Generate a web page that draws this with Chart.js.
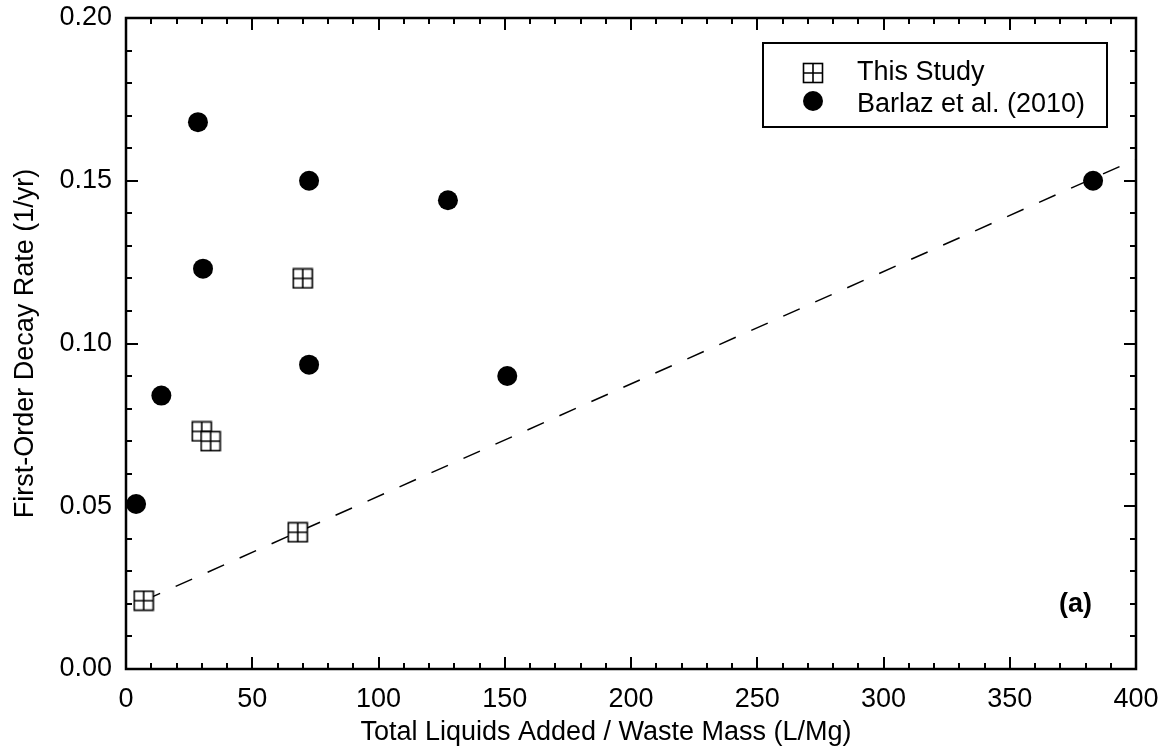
<!DOCTYPE html>
<html>
<head>
<meta charset="utf-8">
<script src="https://cdn.jsdelivr.net/npm/chart.js@4.4.1/dist/chart.umd.min.js"></script>
<style>html,body{margin:0;padding:0;background:#fff}</style>
</head>
<body>
<canvas id="c" width="1169" height="755"></canvas>
<script>
// values
let studyX=[7,30,33.5,68,70];
let studyY=[0.021,0.073,0.070,0.042,0.120];
let barlazX=[4,14,28.5,30.5,72.5,72.5,127.5,151,383];
let barlazY=[0.0507,0.084,0.168,0.123,0.150,0.0935,0.144,0.090,0.150];
let fitX=[7,400];
let fitY=[0.021,0.1566];
let xTicks=[0,50,100,150,200,250,300,350,400];
let yTicks=[0,0.05,0.10,0.15,0.20];
let xMinor=10, yMinor=0.01;
let seriesNames=["This Study","Barlaz et al. (2010)"];
let xTitle="Total Liquids Added / Waste Mass (L/Mg)";
let yTitle="First-Order Decay Rate (1/yr)";
let panelTag="(a)";

const FONT="Liberation Sans, Arial, sans-serif";

function pts(xs,ys){return xs.map((x,i)=>({x:x,y:ys[i]}));}

function boxMark(){
    let cv=document.createElement("canvas");
    cv.width=22; cv.height=22;
    let g=cv.getContext("2d");
    g.fillStyle="#fff"; g.fillRect(1,1,20,20);
    g.strokeStyle="#000"; g.lineWidth=1.6;
    g.strokeRect(1.5,1.5,19,19);
    g.beginPath();
    g.moveTo(11,1.5); g.lineTo(11,20.5);
    g.moveTo(1.5,11); g.lineTo(20.5,11);
    g.stroke();
    return cv;
}
let box=boxMark();

let frame={
    id:"frame",
    afterDraw(chart){
        let c=chart.ctx, a=chart.chartArea, xs=chart.scales.x, ys=chart.scales.y;
        c.save();
        c.strokeStyle="#000";
        // ticks, pointing inward on all four sides
        c.lineWidth=2;
        c.beginPath();
        for(let v=xs.min; v<=xs.max+1e-9; v+=xMinor){
            let px=Math.round(xs.getPixelForValue(v));
            let len=xTicks.includes(Math.round(v))?12:6;
            c.moveTo(px,a.bottom); c.lineTo(px,a.bottom-len);
            c.moveTo(px,a.top); c.lineTo(px,a.top+len);
        }
        for(let k=0; k<=Math.round((ys.max-ys.min)/yMinor); k++){
            let v=ys.min+k*yMinor;
            let py=Math.round(ys.getPixelForValue(v));
            let len=(k%5===0)?12:6;
            c.moveTo(a.left,py); c.lineTo(a.left+len,py);
            c.moveTo(a.right,py); c.lineTo(a.right-len,py);
        }
        c.stroke();
        c.lineWidth=2.5;
        c.strokeRect(a.left,a.top,a.right-a.left,a.bottom-a.top);

        // legend
        c.lineWidth=2;
        c.strokeRect(763,43,344,84);
        c.drawImage(box,813-11,73-11);
        c.fillStyle="#000";
        c.beginPath(); c.arc(813,101,10,0,Math.PI*2); c.fill();
        c.font="27px "+FONT;
        c.textAlign="left"; c.textBaseline="alphabetic";
        c.fillText(seriesNames[0],857,79.5);
        c.fillText(seriesNames[1],857,112);

        // panel tag
        c.font="bold 27px "+FONT;
        c.textAlign="right";
        c.fillText(panelTag,1092,612);

        // axis titles
        c.font="27px "+FONT;
        c.textAlign="center";
        c.fillText(xTitle,606,739.5);
        c.translate(33,(a.top+a.bottom)/2);
        c.rotate(-Math.PI/2);
        c.fillText(yTitle,0,0);
        c.restore();
    }
};

new Chart(document.getElementById("c"),{
    type:"scatter",
    data:{datasets:[
        {label:seriesNames[0],data:pts(studyX,studyY),pointStyle:box,pointRadius:11,pointHoverRadius:11,order:1},
        {label:seriesNames[1],data:pts(barlazX,barlazY),pointStyle:"circle",pointRadius:10,pointHoverRadius:10,
         backgroundColor:"#000",borderColor:"#000",borderWidth:0,order:2},
        {type:"line",label:"fit",data:pts(fitX,fitY),showLine:true,pointRadius:0,borderColor:"#000",
         borderWidth:1.5,borderDash:[18,17],fill:false,order:3}
    ]},
    options:{
        responsive:false,animation:false,
        layout:{padding:{top:18,right:33,left:0,bottom:0}},
        plugins:{legend:{display:false},tooltip:{enabled:false}},
        scales:{
            x:{type:"linear",min:0,max:400,
               afterBuildTicks:s=>{s.ticks=xTicks.map(v=>({value:v}));},
               afterFit:s=>{s.height=86;s.paddingLeft=0;s.paddingRight=0;},
               grid:{display:false,drawTicks:false},border:{display:false},
               ticks:{color:"#000",font:{family:FONT,size:27},padding:14,maxRotation:0}},
            y:{type:"linear",min:0,max:0.2,
               afterBuildTicks:s=>{s.ticks=yTicks.map(v=>({value:v}));},
               afterFit:s=>{s.width=126;s.paddingTop=0;s.paddingBottom=0;},
               grid:{display:false,drawTicks:false},border:{display:false},
               ticks:{color:"#000",font:{family:FONT,size:27},padding:14,callback:v=>v.toFixed(2)}}
        }
    },
    plugins:[frame]
});
</script>
</body>
</html>
